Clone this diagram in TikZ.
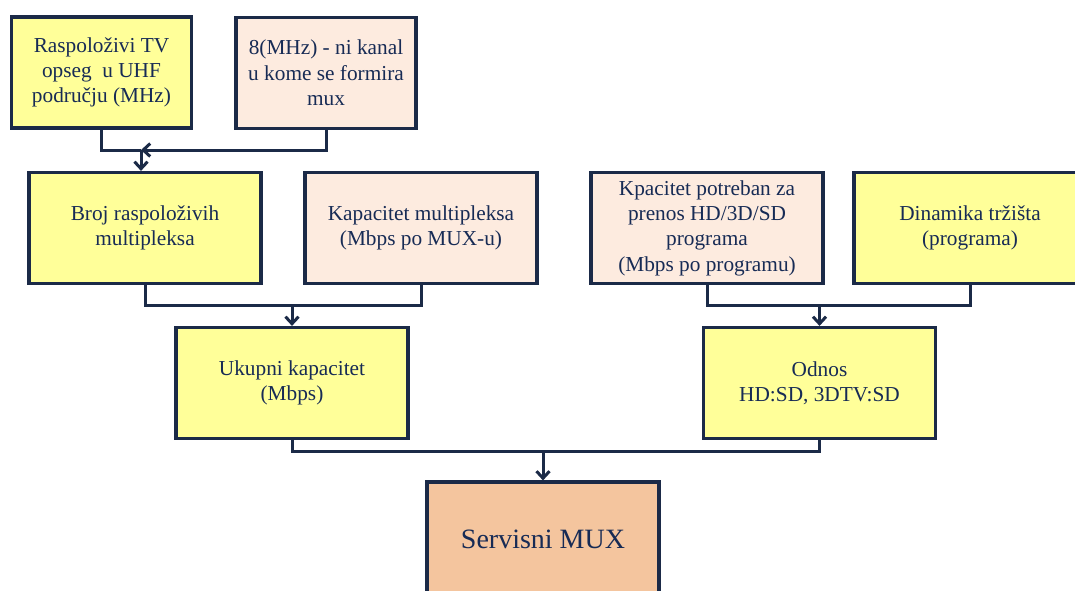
\documentclass[tikz,border=0pt]{standalone}
\usepackage{fontspec}
\setmainfont{Liberation Serif}
\usetikzlibrary{arrows.meta}
\definecolor{boxyellow}{HTML}{FFFF99}
\definecolor{boxpeach}{HTML}{FDEBDF}
\definecolor{boxorange}{HTML}{F4C59E}
\definecolor{edgenavy}{HTML}{1B2A47}
\definecolor{textnavy}{HTML}{172B55}
\tikzset{
  blk/.style={draw=edgenavy, line width=3.2pt, rectangle, minimum width=232pt,
    minimum height=111pt, align=center, text=textnavy, inner sep=2pt,
    font=\fontsize{21.3}{25.3}\selectfont},
  smallblk/.style={blk, minimum width=180pt},
  yel/.style={fill=boxyellow},
  pch/.style={fill=boxpeach},
  org/.style={fill=boxorange},
  conn/.style={draw=edgenavy, line width=3pt},
  arr/.style={conn, -{Straight Barb[length=7pt,width=13pt]}},
}
\begin{document}
\begin{tikzpicture}[x=1pt,y=-1pt]
\useasboundingbox (0,0) rectangle (1075,590);
% top row
\node[smallblk,yel] (A) at (101.5,72.5) {Raspoloživi TV\\opseg\ \ u UHF\\području (MHz)};
\node[smallblk,pch] (B) at (326,73) {8(MHz) - ni kanal\\u kome se formira\\mux};
% second row
\node[blk,yel] (C) at (145,228) {Broj raspoloživih\\multipleksa};
\node[blk,pch] (D) at (421,228) {Kapacitet multipleksa\\(Mbps po MUX-u)};
\node[blk,pch] (F) at (707,228) {Kpacitet potreban za\\prenos HD/3D/SD\\programa\\(Mbps po programu)};
\node[blk,yel] (G) at (970,228) {Dinamika tržišta\\(programa)};
% third row
\node[blk,yel] (E) at (292,383) {Ukupni kapacitet\\(Mbps)};
\node[blk,yel] (H) at (819.5,383) {Odnos\\HD:SD, 3DTV:SD};
% bottom
\node[blk,org,minimum height=114pt,font=\fontsize{28}{32}\selectfont] (S) at (543,539) {Servisni MUX};
% junctions
\coordinate (j1) at (141,150);
\coordinate (j2) at (292,305);
\coordinate (j3) at (819.5,305);
\coordinate (j4) at (543,451);
% connectors
\draw[conn] (A.south) |- (j1);
\draw[arr] (B.south) |- (j1);
\draw[arr] (j1) -- (j1 |- C.north);
\draw[conn] (C.south) |- (j2) -| (D.south);
\draw[arr] (j2) -- (E.north);
\draw[conn] (F.south) |- (j3) -| (G.south);
\draw[arr] (j3) -- (H.north);
\draw[conn] (E.south) |- (j4) -| (H.south);
\draw[arr] (j4) -- (S.north);
\end{tikzpicture}
\end{document}
